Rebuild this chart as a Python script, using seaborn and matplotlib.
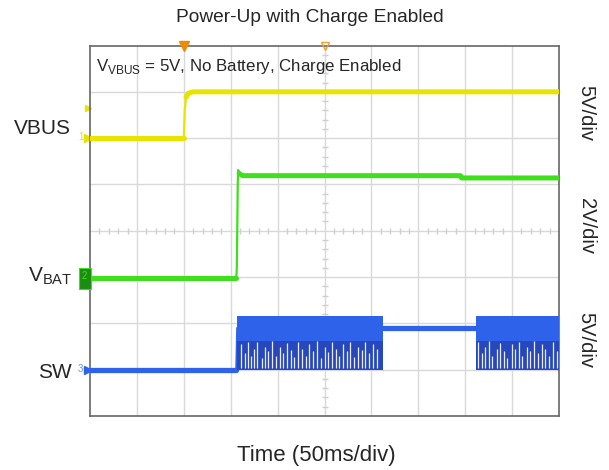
"""
Scope capture: power-up with charge enabled (VBUS, VBAT, SW)
"""
import matplotlib
matplotlib.use("Agg")
import matplotlib.pyplot as plt
import seaborn as sns
import pandas as pd

# ---- data (screen divisions: x 0..10, y 0..8) ----
vbus_t = [0.0, 2.0, 2.02, 2.05, 2.1, 2.2, 10.0]
vbus_v = [6.0, 6.0, 6.6, 6.88, 6.97, 7.0, 7.0]

vbat_t = [0.0, 3.12, 3.13, 3.14, 3.15, 3.16, 3.18, 3.25, 7.9, 7.92, 10.0]
vbat_v = [2.97, 2.97, 3.2, 4.05, 5.0, 5.31, 5.24, 5.19, 5.19, 5.14, 5.14]

sw_low_t = [0.0, 3.12, 3.14]
sw_low_v = [1.0, 1.0, 1.9]
sw_idle_t = [6.24, 8.22]
sw_idle_v = [1.89, 1.89]

burst_start = [3.14, 8.22]
burst_end = [6.24, 10.0]
burst_top = 2.16
burst_mid = 1.62
burst_bottom = 0.99

gap_x = [3.22, 3.3, 3.36, 3.43, 3.5, 3.57, 3.66, 3.74, 3.8, 3.88, 3.97, 4.05,
         4.11, 4.2, 4.28, 4.36, 4.43, 4.52, 4.6, 4.67, 4.75, 4.84, 4.92, 5.0,
         5.07, 5.16, 5.24, 5.31, 5.4, 5.48, 5.55, 5.63, 5.72, 5.8, 5.87, 5.95,
         6.04, 6.12,
         8.27, 8.35, 8.43, 8.5, 8.58, 8.67, 8.75, 8.82, 8.9, 8.99, 9.07, 9.14,
         9.22, 9.31, 9.39, 9.46, 9.55, 9.63, 9.7, 9.78, 9.87, 9.95]
gap_top = [1.55, 1.35, 1.6, 1.3, 1.45, 1.6, 1.25, 1.5, 1.4, 1.62, 1.3, 1.5,
           1.35, 1.58, 1.42, 1.28, 1.6, 1.45, 1.3, 1.55, 1.4, 1.62, 1.25, 1.5,
           1.38, 1.6, 1.45, 1.3, 1.55, 1.4, 1.6, 1.28, 1.5, 1.42, 1.6, 1.35,
           1.55, 1.45,
           1.6, 1.35, 1.5, 1.62, 1.3, 1.45, 1.58, 1.4, 1.25, 1.55, 1.45, 1.6,
           1.3, 1.5, 1.4, 1.62, 1.35, 1.55, 1.45, 1.3, 1.6, 1.4]

YELLOW = "#e8e400"
GREEN = "#3ee01c"
BLUE = "#2f62ea"
BLUE_DARK = "#2648bc"

sns.set_style("white")
plt.rcParams["font.family"] = ["Liberation Sans", "DejaVu Sans"]
plt.rcParams["mathtext.fontset"] = "custom"
plt.rcParams["mathtext.rm"] = "Liberation Sans"

fig = plt.figure(figsize=(6.09, 4.70), dpi=100)
ax = fig.add_axes([90 / 609, 54 / 470, 469 / 609, 370.5 / 470])
ax.set_xlim(0, 10)
ax.set_ylim(0, 8)

# graticule
for gx in range(1, 10):
    ax.axvline(gx, color="#d9d9d9", lw=1, zorder=0)
for gy in range(1, 8):
    ax.axhline(gy, color="#d9d9d9", lw=1, zorder=0)
minor_x = [i * 0.2 for i in range(1, 50) if i % 5]
minor_y = [i * 0.2 for i in range(1, 40) if i % 5]
ax.plot(minor_x, [4] * len(minor_x), ls="none", marker="|", ms=4,
        color="#cfcfcf", zorder=0)
ax.plot([5] * len(minor_y), minor_y, ls="none", marker="_", ms=4,
        color="#cfcfcf", zorder=0)

# traces: thin line for the edges, thick line over the flat parts
df_vbus = pd.DataFrame({"t": vbus_t, "v": vbus_v})
df_vbat = pd.DataFrame({"t": vbat_t, "v": vbat_v})
sns.lineplot(data=df_vbus, x="t", y="v", color=YELLOW, lw=1.6, ax=ax,
             sort=False, zorder=3)
sns.lineplot(data=df_vbat, x="t", y="v", color=GREEN, lw=1.6, ax=ax,
             sort=False, zorder=3)
thick = [(df_vbus.iloc[:2], YELLOW), (df_vbus.iloc[3:], YELLOW),
         (df_vbat.iloc[:2], GREEN), (df_vbat.iloc[6:], GREEN)]
for seg, col in thick:
    sns.lineplot(data=seg, x="t", y="v", lw=3.6, color=col, ax=ax,
                 sort=False, zorder=3)
sns.lineplot(x=sw_low_t, y=sw_low_v, color=BLUE, lw=1.6, ax=ax, sort=False,
             zorder=3)
sns.lineplot(x=sw_low_t[:2], y=sw_low_v[:2], color=BLUE, lw=3.8, ax=ax,
             sort=False, zorder=3)
sns.lineplot(x=sw_idle_t, y=sw_idle_v, color=BLUE, lw=3.8, ax=ax, sort=False,
             zorder=3)
for s, e in zip(burst_start, burst_end):
    ax.fill_between([s, e], burst_mid, burst_top, color=BLUE, lw=0, zorder=3)
    ax.fill_between([s, e], burst_bottom, burst_mid, color=BLUE_DARK, lw=0,
                    zorder=3)
ax.vlines(gap_x, burst_bottom + 0.04, gap_top, color="white", lw=0.9,
          alpha=0.9, zorder=4)

# frame
for sp in ax.spines.values():
    sp.set_color("#666666")
    sp.set_linewidth(1.2)
ax.set_xticks([])
ax.set_yticks([])
ax.set_xlabel("")
ax.set_ylabel("")

# trigger markers
ax.plot([2.0], [8.0], marker="v", ms=7, color="#f08a00", clip_on=False,
        zorder=5)
ax.plot([5.0], [8.0], marker="v", ms=6, mfc="none", mec="#f0a030",
        clip_on=False, zorder=5)

# channel markers
ax.plot([-0.05], [6.65], marker=">", ms=5, color=YELLOW, clip_on=False)
ax.plot([-0.05], [6.0], marker=">", ms=6, color=YELLOW, clip_on=False)
ax.text(-0.14, 6.02, "1", color=YELLOW, fontsize=7, ha="right", va="center",
        clip_on=False)
ax.add_patch(plt.Rectangle((-0.24, 2.74), 0.26, 0.46, fc="#1c8c12",
                           ec=GREEN, lw=0.8, clip_on=False, zorder=5))
ax.text(-0.13, 3.02, "2", color=GREEN, fontsize=7, ha="center", va="center",
        clip_on=False, zorder=6)
ax.plot([-0.05], [1.0], marker=">", ms=6, color=BLUE, clip_on=False)
ax.text(-0.14, 1.02, "3", color="#6a8cf0", fontsize=7, ha="right",
        va="center", clip_on=False)

# texts
fig.text(310 / 609, 1 - 17 / 470, "Power-Up with Charge Enabled",
         ha="center", va="center", fontsize=13.8)
ax.text(0.13, 7.55, r"V$_{\mathrm{VBUS}}$ = 5V, No Battery, Charge Enabled",
        fontsize=12.2, ha="left", va="center")
fig.text(316 / 609, 1 - 456 / 470, "Time (50ms/div)", ha="center",
         va="center", fontsize=16)

fig.text(71 / 609, 1 - 128 / 470, "VBUS", ha="right", va="center",
         fontsize=15)
fig.text(72 / 609, 1 - 276 / 470, r"V$_{\mathrm{BAT}}$", ha="right",
         va="center", fontsize=15)
fig.text(72 / 609, 1 - 373 / 470, "SW", ha="right", va="center", fontsize=15)

for ypx, lab in [(113, "5V/div"), (226, "2V/div"), (340, "5V/div")]:
    fig.text(586 / 609, 1 - ypx / 470, lab, ha="center", va="center",
             rotation=270, fontsize=14.5)

fig.savefig("out.png", dpi=100)
